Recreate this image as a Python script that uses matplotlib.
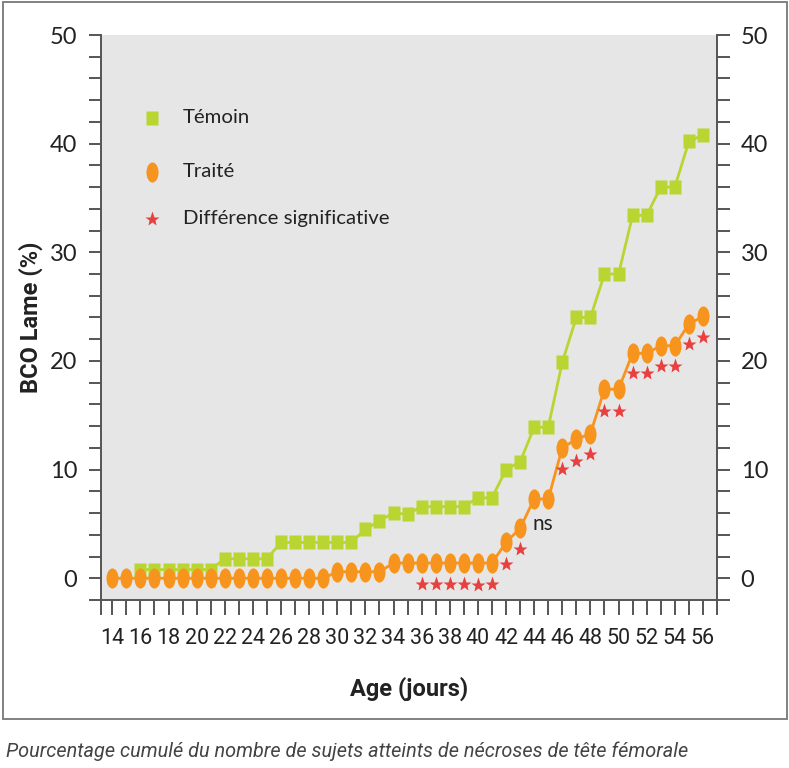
import numpy as np
import matplotlib
matplotlib.use("Agg")
import matplotlib.pyplot as plt
from matplotlib.path import Path
from matplotlib.patches import Rectangle
from matplotlib.transforms import Affine2D

# --- data ---
days_traite = list(range(14, 57))
traite = [0, 0, 0, 0, 0, 0, 0, 0, 0, 0, 0, 0, 0, 0, 0, 0,
          0.6, 0.6, 0.6, 0.6,
          1.4, 1.4, 1.4, 1.4, 1.4, 1.4, 1.4, 1.4,
          3.3, 4.6, 7.3, 7.3, 12.0, 12.8, 13.3, 17.4, 17.4,
          20.7, 20.7, 21.4, 21.4, 23.4, 24.1]

days_temoin = list(range(16, 57))
temoin = [0.8, 0.8, 0.8, 0.8, 0.8, 0.8,
          1.8, 1.8, 1.8, 1.8,
          3.3, 3.3, 3.3, 3.3, 3.3, 3.3,
          4.5, 5.3, 6.0, 5.9,
          6.6, 6.6, 6.6, 6.6,
          7.4, 7.4,
          10.0, 10.7, 13.9, 13.9, 19.9, 24.0, 24.0, 28.0, 28.0,
          33.4, 33.4, 36.0, 36.0, 40.2, 40.8]

days_sig = [36, 37, 38, 39, 40, 41, 42, 43,
            46, 47, 48, 49, 50, 51, 52, 53, 54, 55, 56]
sig_y = [-0.55, -0.55, -0.55, -0.55, -0.6, -0.5, 1.3, 2.7,
         10.1, 10.8, 11.4, 15.4, 15.4, 18.9, 18.9, 19.5, 19.5, 21.6, 22.2]

ns_pos = (44.6, 5.0)

x_labels = list(range(14, 57, 2))
y_labels = list(range(0, 51, 10))

GREEN = "#b9d532"
ORANGE = "#f7941e"
RED = "#e8403f"
BG = "#e6e6e6"
AXC = "#555555"

# ellipse marker for "Traité", slightly tall rectangle for "Témoin"
circ = Path.unit_circle()
oval = Path(Affine2D().scale(0.6, 1.0).transform(circ.vertices), circ.codes)
rect = Path([(-0.42, -0.5), (0.42, -0.5), (0.42, 0.5), (-0.42, 0.5), (-0.42, -0.5)],
            [Path.MOVETO, Path.LINETO, Path.LINETO, Path.LINETO, Path.CLOSEPOLY])

fig = plt.figure(figsize=(7.89, 7.68), dpi=100)
ax = fig.add_axes([101 / 789, 1 - 600 / 768, 616 / 789, 565 / 768])
ax.set_facecolor(BG)

ax.plot(days_temoin, temoin, color=GREEN, lw=2, marker=rect, ms=10.5,
        mec="none", mfc=GREEN, zorder=3)
ax.plot(days_traite, traite, color=ORANGE, lw=2, marker=oval, ms=14.5,
        mec="none", mfc=ORANGE, zorder=4)
ax.plot(days_sig, sig_y, ls="none", marker="*", ms=11, color=RED,
        mec="none", zorder=5)
ax.text(ns_pos[0], ns_pos[1], "ns", fontsize=15, family="Lato",
        color="#222222", ha="center", va="center")

ax.set_xlim(13.2, 57.0)
ax.set_ylim(-2, 50)

# x ticks: every day, labels on even days
xt = [13.2] + list(range(14, 58))
ax.set_xticks(xt)
ax.set_xticklabels([str(t) if t in x_labels else "" for t in xt],
                   family="Roboto", fontsize=15.5, color="#222222")
ax.tick_params(axis="x", direction="out", length=11, width=1.4,
               color=AXC, pad=9)

yt = list(range(-2, 51, 2))
ax.set_yticks(yt)
ax.set_yticklabels([str(t) if t in y_labels else "" for t in yt],
                   family="Lato", fontsize=17, color="#222222")
ax.tick_params(axis="y", direction="out", length=9, width=1.4,
               color=AXC, pad=8, left=True, right=True,
               labelleft=True, labelright=True)

ax.spines["top"].set_visible(False)
for s in ["left", "right", "bottom"]:
    ax.spines[s].set_color(AXC)
    ax.spines[s].set_linewidth(1.4)

ax.set_xlabel("Age (jours)", family="Roboto", fontweight="bold",
              fontsize=17, color="#222222", labelpad=20)
ax.set_ylabel("BCO Lame (%)", family="Roboto", fontweight="bold",
              fontsize=17, color="#222222", labelpad=5)

# legend drawn by hand in axes data space
leg = [(rect, GREEN, 10.5, "Témoin", 42.4),
       (oval, ORANGE, 14.5, "Traité", 37.4),
       ("*", RED, 11, "Différence significative", 33.1)]
for mk, col, ms, lab, yy in leg:
    ax.plot([16.8], [yy], ls="none", marker=mk, ms=ms, color=col,
            mec="none", clip_on=False)
    ax.text(19.0, yy, lab, family="Lato", fontsize=14.7, color="#222222",
            va="center", ha="left")

# outer frame
fig.patches.append(Rectangle((3 / 789, 1 - 719 / 768), 784 / 789, 717 / 768,
                             transform=fig.transFigure, fill=False,
                             ec="#777777", lw=1.3))

fig.text(6 / 789, 1 - 751 / 768,
         "Pourcentage cumulé du nombre de sujets atteints de nécroses de tête fémorale",
         family="Roboto", style="italic", fontsize=14.3,
         color="#444444", va="center", ha="left")

fig.savefig("out.png", dpi=100)
